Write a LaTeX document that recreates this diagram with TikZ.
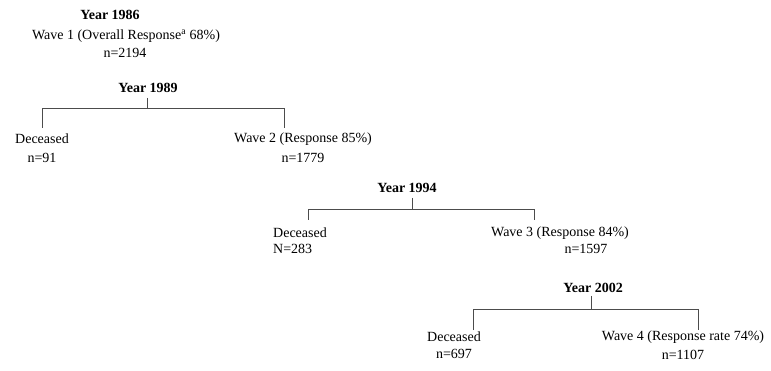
\documentclass[tikz,border=0pt]{standalone}
\usepackage{fontspec}
\setmainfont{Liberation Serif}
\begin{document}
\begin{tikzpicture}[x=1pt,y=-1pt,
  txt/.style={inner sep=0pt, font=\fontsize{14}{16}\selectfont},
  yr/.style={txt, font=\fontsize{14}{16}\selectfont\bfseries},
  conn/.style={draw=black!70, line width=0.9pt}]
\useasboundingbox (0,0) rectangle (771,371);
% level 0
\node[yr] (y86) at (110,15) {Year 1986};
\node[txt] (w1) at (126,36) {Wave 1 (Overall Response\textsuperscript{a} 68\%)};
\node[txt] (n1) at (125,53) {n=2194};
% level 1
\node[yr] (y89) at (148,88) {Year 1989};
\node[txt] (d1) at (42,139) {Deceased};
\node[txt] (dn1) at (42,158) {n=91};
\node[txt] (w2) at (303,139) {Wave 2 (Response 85\%)};
\node[txt] (n2) at (303,158) {n=1779};
\coordinate (s1) at (147,98);
\coordinate (j1) at (147,108);
\coordinate (l1) at (42,108);
\coordinate (r1) at (284,108);
\coordinate (l1e) at (42,128);
\coordinate (r1e) at (284,128);
\draw[conn] (s1) -- (j1);
\draw[conn] (l1e) -- (l1) -- (r1) -- (r1e);
% level 2
\node[yr] (y94) at (407,188) {Year 1994};
\node[txt, anchor=west] (d2) at (273,233) {Deceased};
\node[txt, anchor=west] (dn2) at (273,249) {N=283};
\node[txt] (w3) at (560,233) {Wave 3 (Response 84\%)};
\node[txt] (n3) at (586,249) {n=1597};
\coordinate (s2) at (412,198);
\coordinate (j2) at (412,209);
\coordinate (l2) at (308,209);
\coordinate (r2) at (534,209);
\coordinate (l2e) at (308,220);
\coordinate (r2e) at (534,220);
\draw[conn] (s2) -- (j2);
\draw[conn] (l2e) -- (l2) -- (r2) -- (r2e);
% level 3
\node[yr] (y02) at (593,288) {Year 2002};
\node[txt] (d3) at (454,337) {Deceased};
\node[txt] (dn3) at (454,354) {n=697};
\node[txt] (w4) at (683,337) {Wave 4 (Response rate 74\%)};
\node[txt] (n4) at (683,355) {n=1107};
\coordinate (s3) at (591,296);
\coordinate (j3) at (591,309);
\coordinate (l3) at (473,309);
\coordinate (r3) at (698,309);
\coordinate (l3e) at (473,330);
\coordinate (r3e) at (698,330);
\draw[conn] (s3) -- (j3);
\draw[conn] (l3e) -- (l3) -- (r3) -- (r3e);
\end{tikzpicture}
\end{document}
